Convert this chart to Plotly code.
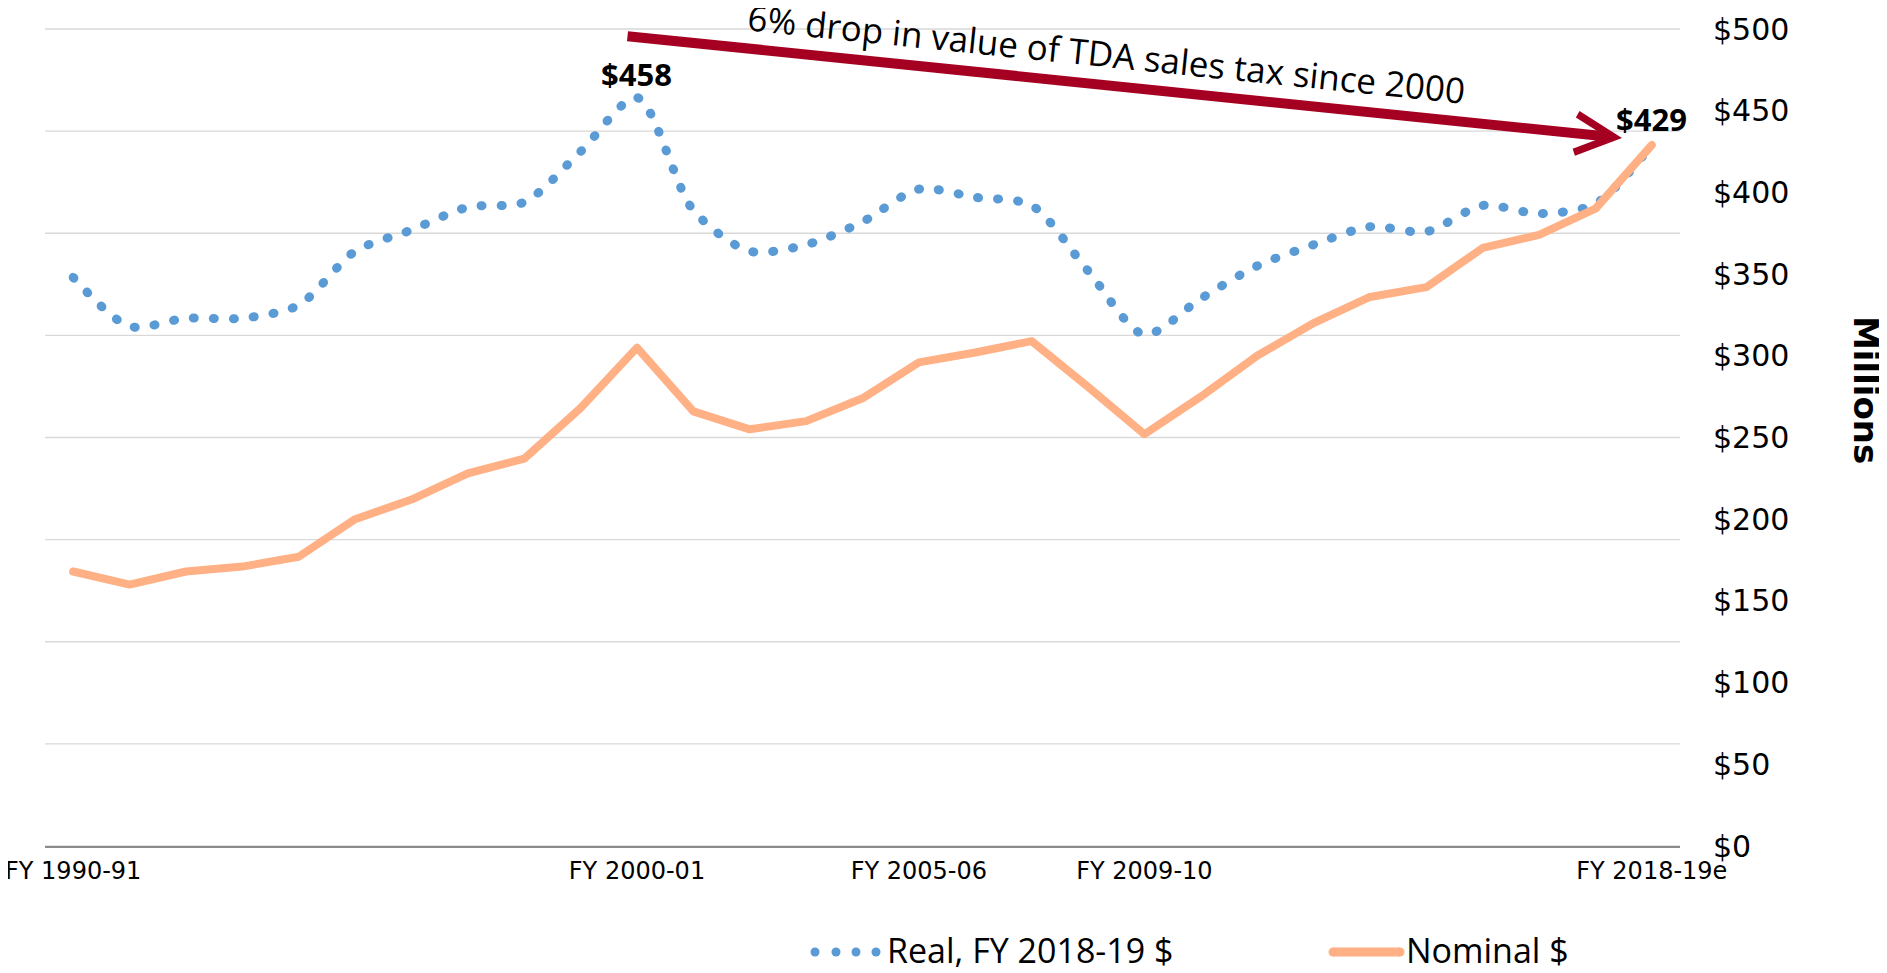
import plotly.graph_objects as go

# ---------------- data ----------------
categories = [
    "FY 1990-91", "FY 1991-92", "FY 1992-93", "FY 1993-94", "FY 1994-95",
    "FY 1995-96", "FY 1996-97", "FY 1997-98", "FY 1998-99", "FY 1999-00",
    "FY 2000-01", "FY 2001-02", "FY 2002-03", "FY 2003-04", "FY 2004-05",
    "FY 2005-06", "FY 2006-07", "FY 2007-08", "FY 2008-09", "FY 2009-10",
    "FY 2010-11", "FY 2011-12", "FY 2012-13", "FY 2013-14", "FY 2014-15",
    "FY 2015-16", "FY 2016-17", "FY 2017-18", "FY 2018-19e",
]
real_values = [348, 318, 323, 323, 331, 364, 377, 391, 394, 425,
               458, 389, 364, 368, 382, 402, 397, 392, 352, 313,
               335, 355, 368, 379, 376, 392, 387, 393, 429]
nominal_values = [168, 160, 168, 171, 177, 200, 212, 228, 237, 268,
                  305, 266, 255, 260, 274, 296, 302, 309, 281, 252,
                  275, 300, 320, 336, 342, 366, 374, 390, 429]
shown_ticks = ["FY 1990-91", "FY 2000-01", "FY 2005-06", "FY 2009-10", "FY 2018-19e"]
series_names = ["Real, FY 2018-19 $", "Nominal $"]
note_text = "6% drop in value of TDA sales tax since 2000"
axis_title = "Millions"
n_gridlines = 8   # gridline intervals of the (hidden) primary scale

REAL_COLOR = "#5B9BD5"
NOM_COLOR = "#FFB085"
ARROW_COLOR = "#A50021"
GRID_COLOR = "#D9D9D9"
TEXT_FONT = "Open Sans"
TICK_FONT = "DejaVu Sans"

# page (window) geometry; the page body adds an 8px margin around the figure
OFF = 8
FW, FH = 1887 - OFF, 973 - OFF
L, R, T, B = 45, 1680, 29, 846   # plot area in page pixels


def px(xpix):
    return (xpix - L) / (R - L)


def py(ypix):
    return (B - ypix) / (B - T)


fig = go.Figure()
fig.add_trace(go.Scatter(
    x=categories, y=real_values, mode="lines", name=series_names[0],
    line=dict(color=REAL_COLOR, width=9, dash="1px,19px", shape="spline", smoothing=0.8),
    showlegend=False, hoverinfo="skip",
))
fig.add_trace(go.Scatter(
    x=categories, y=nominal_values, mode="lines", name=series_names[1],
    line=dict(color=NOM_COLOR, width=8),
    showlegend=False, hoverinfo="skip",
))

annotations = [
    dict(x=categories[10], y=real_values[10], xref="x", yref="y",
         text="<b>$%d</b>" % real_values[10], showarrow=False, yshift=24,
         xanchor="center", yanchor="middle",
         font=dict(family=TEXT_FONT, size=31, color="black")),
    dict(x=categories[-1], y=nominal_values[-1], xref="x", yref="y",
         text="<b>$%d</b>" % nominal_values[-1], showarrow=False, yshift=26,
         xanchor="center", yanchor="middle",
         font=dict(family=TEXT_FONT, size=31, color="black")),
    # arrow
    dict(x=px(1622), y=py(138), xref="paper", yref="paper", text="",
         showarrow=True, ax=626 - 1622, ay=36 - 138, arrowhead=5,
         arrowsize=0.75, arrowwidth=10, arrowcolor=ARROW_COLOR),
    dict(x=px(1106), y=py(54), xref="paper", yref="paper", text=note_text,
         showarrow=False, textangle=5.85, xanchor="center", yanchor="middle",
         font=dict(family=TEXT_FONT, size=35, color="black")),
    dict(x=px(1866), y=py(390), xref="paper", yref="paper", text="<b>%s</b>" % axis_title,
         showarrow=False, textangle=90, xanchor="center", yanchor="middle",
         font=dict(family=TICK_FONT, size=34, color="black")),
    # legend texts
    dict(x=px(885), y=py(950), xref="paper", yref="paper", text=series_names[0],
         showarrow=False, xanchor="left", yanchor="middle",
         font=dict(family=TEXT_FONT, size=34, color="black")),
    dict(x=px(1404), y=py(950), xref="paper", yref="paper", text=series_names[1],
         showarrow=False, xanchor="left", yanchor="middle",
         font=dict(family=TEXT_FONT, size=34, color="black")),
]

shapes = []
# horizontal gridlines (8 equal intervals over the plot height)
for k in range(n_gridlines + 1):
    shapes.append(dict(type="line", xref="paper", yref="y domain", x0=0, x1=1,
                       y0=k / n_gridlines, y1=k / n_gridlines, layer="below",
                       line=dict(color=GRID_COLOR, width=1.3)))
# legend keys
for cx in [815, 836, 856, 876]:
    shapes.append(dict(type="circle", xref="paper", yref="paper", xsizemode="pixel",
                       ysizemode="pixel", xanchor=px(cx), yanchor=py(952),
                       x0=-4.5, x1=4.5, y0=-4.5, y1=4.5,
                       fillcolor=REAL_COLOR, line=dict(width=0)))
shapes.append(dict(type="line", xref="paper", yref="paper", x0=px(1333), x1=px(1400),
                   y0=py(952), y1=py(952), line=dict(color=NOM_COLOR, width=9)))
for cx in [1333, 1400]:
    shapes.append(dict(type="circle", xref="paper", yref="paper", xsizemode="pixel",
                       ysizemode="pixel", xanchor=px(cx), yanchor=py(952),
                       x0=-4.5, x1=4.5, y0=-4.5, y1=4.5,
                       fillcolor=NOM_COLOR, line=dict(width=0)))

fig.update_layout(
    width=FW, height=FH,
    margin=dict(l=L - OFF, r=FW - (R - OFF), t=T - OFF, b=FH - (B - OFF), pad=0,
                autoexpand=False),
    paper_bgcolor="white", plot_bgcolor="white",
    showlegend=False,
    xaxis=dict(type="category", range=[-0.5, len(categories) - 0.5],
               tickmode="array", tickvals=shown_ticks, ticktext=shown_ticks,
               showline=True, linecolor="#8C8C8C", linewidth=1.5, automargin=False,
               showgrid=False, zeroline=False, ticks="", ticklabelstandoff=2,
               tickfont=dict(family=TICK_FONT, size=24, color="black")),
    yaxis=dict(side="right", range=[0, 500], dtick=50, automargin=False,
               tickprefix="$", showgrid=False, zeroline=False, showline=False,
               ticks="", ticklabelstandoff=32,
               tickfont=dict(family=TICK_FONT, size=30, color="black")),
    annotations=annotations,
    shapes=shapes,
)

post = """
var gd = document.getElementById('{plot_id}');
gd.querySelectorAll('.scatterlayer .trace path.js-line').forEach(function(p){
  p.style.strokeLinecap = 'round';
  p.style.strokeLinejoin = 'round';
});
"""
fig.write_html("out.html", post_script=post)
